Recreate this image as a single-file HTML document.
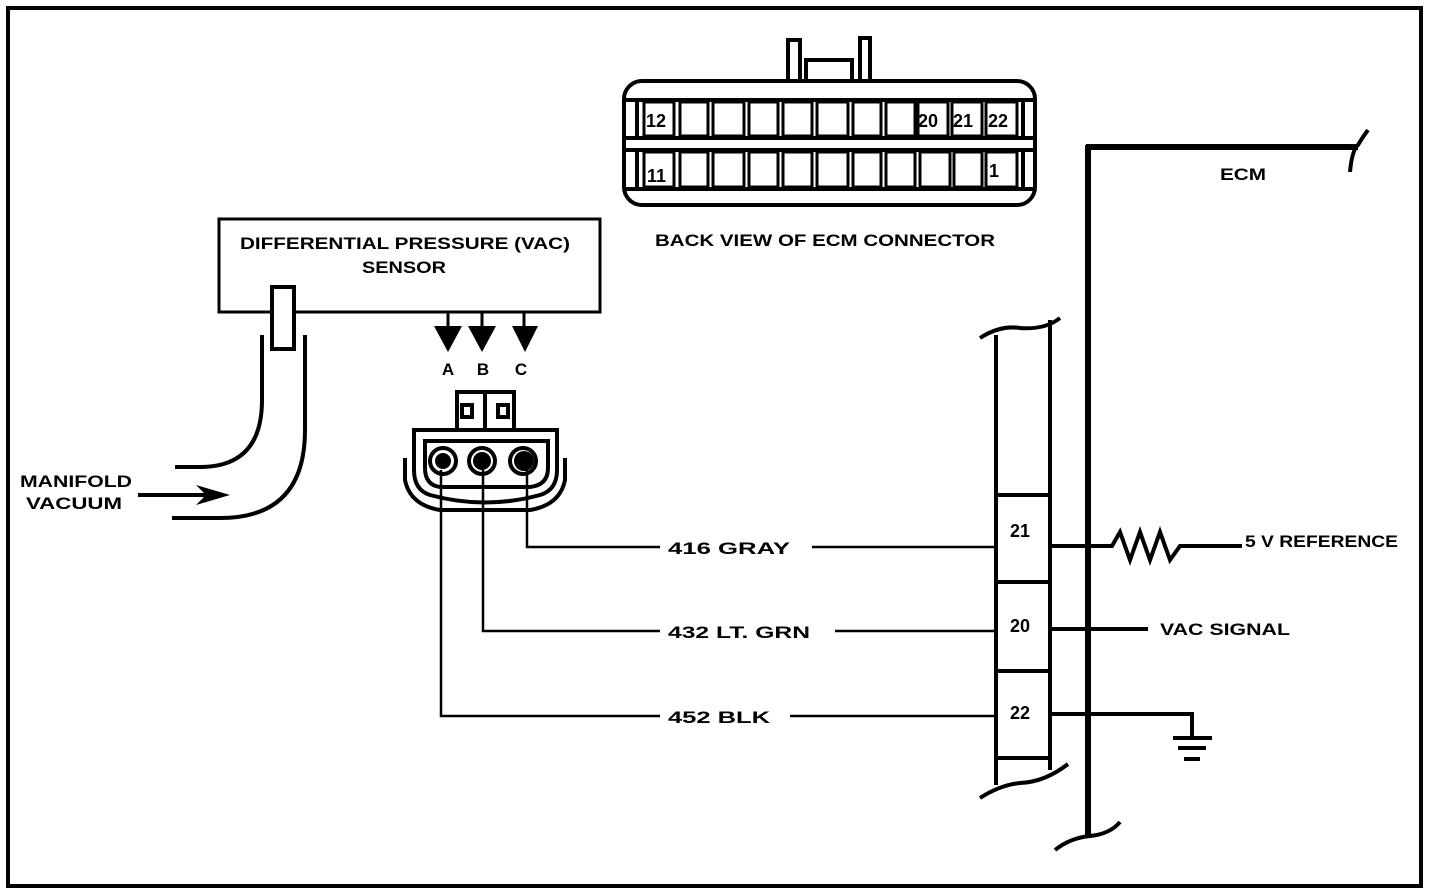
<!DOCTYPE html>
<html><head><style>
html,body{margin:0;padding:0;background:#fff;}
svg{display:block;}
text{font-family:"Liberation Sans",sans-serif;font-weight:bold;fill:#000;}
</style></head><body>
<svg width="1456" height="896" viewBox="0 0 1456 896" xmlns="http://www.w3.org/2000/svg">
<rect x="8" y="8" width="1413" height="878" fill="none" stroke="#000" stroke-width="4"/>
<!-- top connector -->
<g fill="none" stroke="#000" stroke-width="4">
<path d="M788 80 V40 H800 V80 M860 80 V38 H870 V80 M806 80 V60 H852 V80"/>
<rect x="624" y="81" width="411" height="124" rx="18"/>
<line x1="626" y1="100" x2="1033" y2="100"/>
<line x1="626" y1="138" x2="1033" y2="138"/>
<line x1="626" y1="150" x2="1033" y2="150"/>
<line x1="626" y1="189" x2="1033" y2="189"/>
<path d="M637 100 V138 M637 150 V189 M1023 100 V138 M1023 150 V189"/>
</g>
<g fill="none" stroke="#000" stroke-width="3">
<rect x="644" y="102" width="30" height="34"/><rect x="680" y="102" width="28" height="34"/><rect x="713" y="102" width="31" height="34"/><rect x="749" y="102" width="29" height="34"/><rect x="783" y="102" width="29" height="34"/><rect x="817" y="102" width="31" height="34"/><rect x="853" y="102" width="28" height="34"/><rect x="886" y="102" width="29" height="34"/><rect x="918" y="102" width="30" height="34"/><rect x="952" y="102" width="30" height="34"/><rect x="986" y="102" width="31" height="34"/>
<rect x="644" y="152" width="30" height="35"/><rect x="680" y="152" width="28" height="35"/><rect x="713" y="152" width="31" height="35"/><rect x="749" y="152" width="29" height="35"/><rect x="783" y="152" width="29" height="35"/><rect x="817" y="152" width="31" height="35"/><rect x="853" y="152" width="28" height="35"/><rect x="886" y="152" width="29" height="35"/><rect x="920" y="152" width="30" height="35"/><rect x="954" y="152" width="28" height="35"/><rect x="986" y="152" width="31" height="35"/>
</g>
<g font-size="18">
<text x="646" y="127">12</text><text x="918" y="127">20</text><text x="953" y="127">21</text><text x="988" y="127">22</text>
<text x="647" y="182">11</text><text x="989" y="177">1</text>
</g>
<text x="655" y="246" font-size="17" textLength="340" lengthAdjust="spacingAndGlyphs">BACK VIEW OF ECM CONNECTOR</text>
<!-- sensor -->
<rect x="219" y="219" width="381" height="93" fill="none" stroke="#000" stroke-width="3"/>
<text x="240" y="249" font-size="17" textLength="330" lengthAdjust="spacingAndGlyphs">DIFFERENTIAL  PRESSURE  (VAC)</text>
<text x="362" y="273" font-size="17" textLength="84" lengthAdjust="spacingAndGlyphs">SENSOR</text>
<rect x="272" y="287" width="22" height="62" fill="#fff" stroke="#000" stroke-width="4"/>
<g fill="none" stroke="#000" stroke-width="4">
<path d="M262 335 V400 Q262 467 200 467 H175"/>
<path d="M305 335 V430 Q305 518 220 518 H172"/>
<line x1="138" y1="495" x2="215" y2="495"/>
</g>
<path d="M230 495 L196 485 L206 495 L196 505 Z" fill="#000"/>
<text x="20" y="487" font-size="17" textLength="112" lengthAdjust="spacingAndGlyphs">MANIFOLD</text>
<text x="26" y="509" font-size="17" textLength="96" lengthAdjust="spacingAndGlyphs">VACUUM</text>
<!-- arrows -->
<g stroke="#000" stroke-width="3"><line x1="448" y1="312" x2="448" y2="330"/><line x1="482" y1="312" x2="482" y2="330"/><line x1="524" y1="312" x2="524" y2="330"/></g>
<path d="M434 326 H462 L448 352 Z M468 326 H496 L482 352 Z M512 326 H538 L525 352 Z" fill="#000"/>
<text x="448" y="375" font-size="17" text-anchor="middle">A</text>
<text x="483" y="375" font-size="17" text-anchor="middle">B</text>
<text x="521" y="375" font-size="17" text-anchor="middle">C</text>
<!-- sensor connector -->
<g fill="none" stroke="#000" stroke-width="4">
<rect x="457" y="392" width="57" height="38"/>
<line x1="485" y1="392" x2="485" y2="430"/>
<rect x="462" y="405" width="10" height="12"/><rect x="498" y="405" width="10" height="12"/>
<path d="M414 430 H557 V470 Q557 490 540 495 Q485 510 430 495 Q414 490 414 470 Z"/>
<path d="M425 441 H548 V468 Q548 485 530 487 H440 Q425 485 425 468 Z"/>
<path d="M405 458 V480 Q410 505 440 510 H530 Q560 505 565 480 V458"/>
<circle cx="443" cy="461" r="13"/><circle cx="482" cy="461" r="13"/><circle cx="523" cy="461" r="13"/>
</g>
<circle cx="443" cy="461" r="8"/><circle cx="482" cy="461" r="9"/><circle cx="524" cy="461" r="10"/>
<!-- wires -->
<g fill="none" stroke="#000" stroke-width="2.5">
<path d="M527 470 V547 H660"/><line x1="812" y1="547" x2="997" y2="547"/>
<path d="M483 470 V631 H660"/><line x1="835" y1="631" x2="997" y2="631"/>
<path d="M441 470 V716 H660"/><line x1="790" y1="716" x2="997" y2="716"/>
</g>
<text x="668" y="554" font-size="17" textLength="122" lengthAdjust="spacingAndGlyphs">416  GRAY</text>
<text x="668" y="638" font-size="17" textLength="142" lengthAdjust="spacingAndGlyphs">432  LT. GRN</text>
<text x="668" y="723" font-size="17" textLength="102" lengthAdjust="spacingAndGlyphs">452  BLK</text>
<!-- ECM connector column -->
<g fill="none" stroke="#000" stroke-width="4">
<path d="M996 335 V785 M1050 320 V770"/>
<path d="M980 338 Q1000 325 1020 328 Q1045 330 1060 318"/>
<path d="M980 798 Q1000 785 1020 783 Q1045 782 1068 764"/>
<path d="M996 495 H1050 M996 582 H1050 M996 671 H1050 M996 758 H1050"/>
<path d="M1050 546 H1112 L1120 532 L1130 560 L1140 532 L1150 560 L1160 532 L1170 560 L1180 546 H1242"/>
<path d="M1050 629 H1148"/>
<path d="M1050 714 H1192 V737"/>
</g>
<g fill="none" stroke="#000" stroke-width="6">
<path d="M1088 145 V838 M1086 147 H1358"/>
</g>
<g fill="none" stroke="#000" stroke-width="4">
<path d="M1350 172 Q1352 150 1358 145 Q1364 135 1368 130"/>
<path d="M1055 850 Q1070 838 1090 836 Q1110 834 1120 822"/>
</g>
<g stroke="#000" stroke-width="4"><line x1="1173" y1="738" x2="1212" y2="738"/><line x1="1178" y1="748" x2="1206" y2="748"/><line x1="1184" y1="759" x2="1200" y2="759"/></g>
<g font-size="18"><text x="1010" y="537">21</text><text x="1010" y="632">20</text><text x="1010" y="719">22</text></g>
<text x="1220" y="180" font-size="17" textLength="46" lengthAdjust="spacingAndGlyphs">ECM</text>
<text x="1245" y="547" font-size="17" textLength="153" lengthAdjust="spacingAndGlyphs">5 V REFERENCE</text>
<text x="1160" y="635" font-size="17" textLength="130" lengthAdjust="spacingAndGlyphs">VAC SIGNAL</text>
</svg>
</body></html>
